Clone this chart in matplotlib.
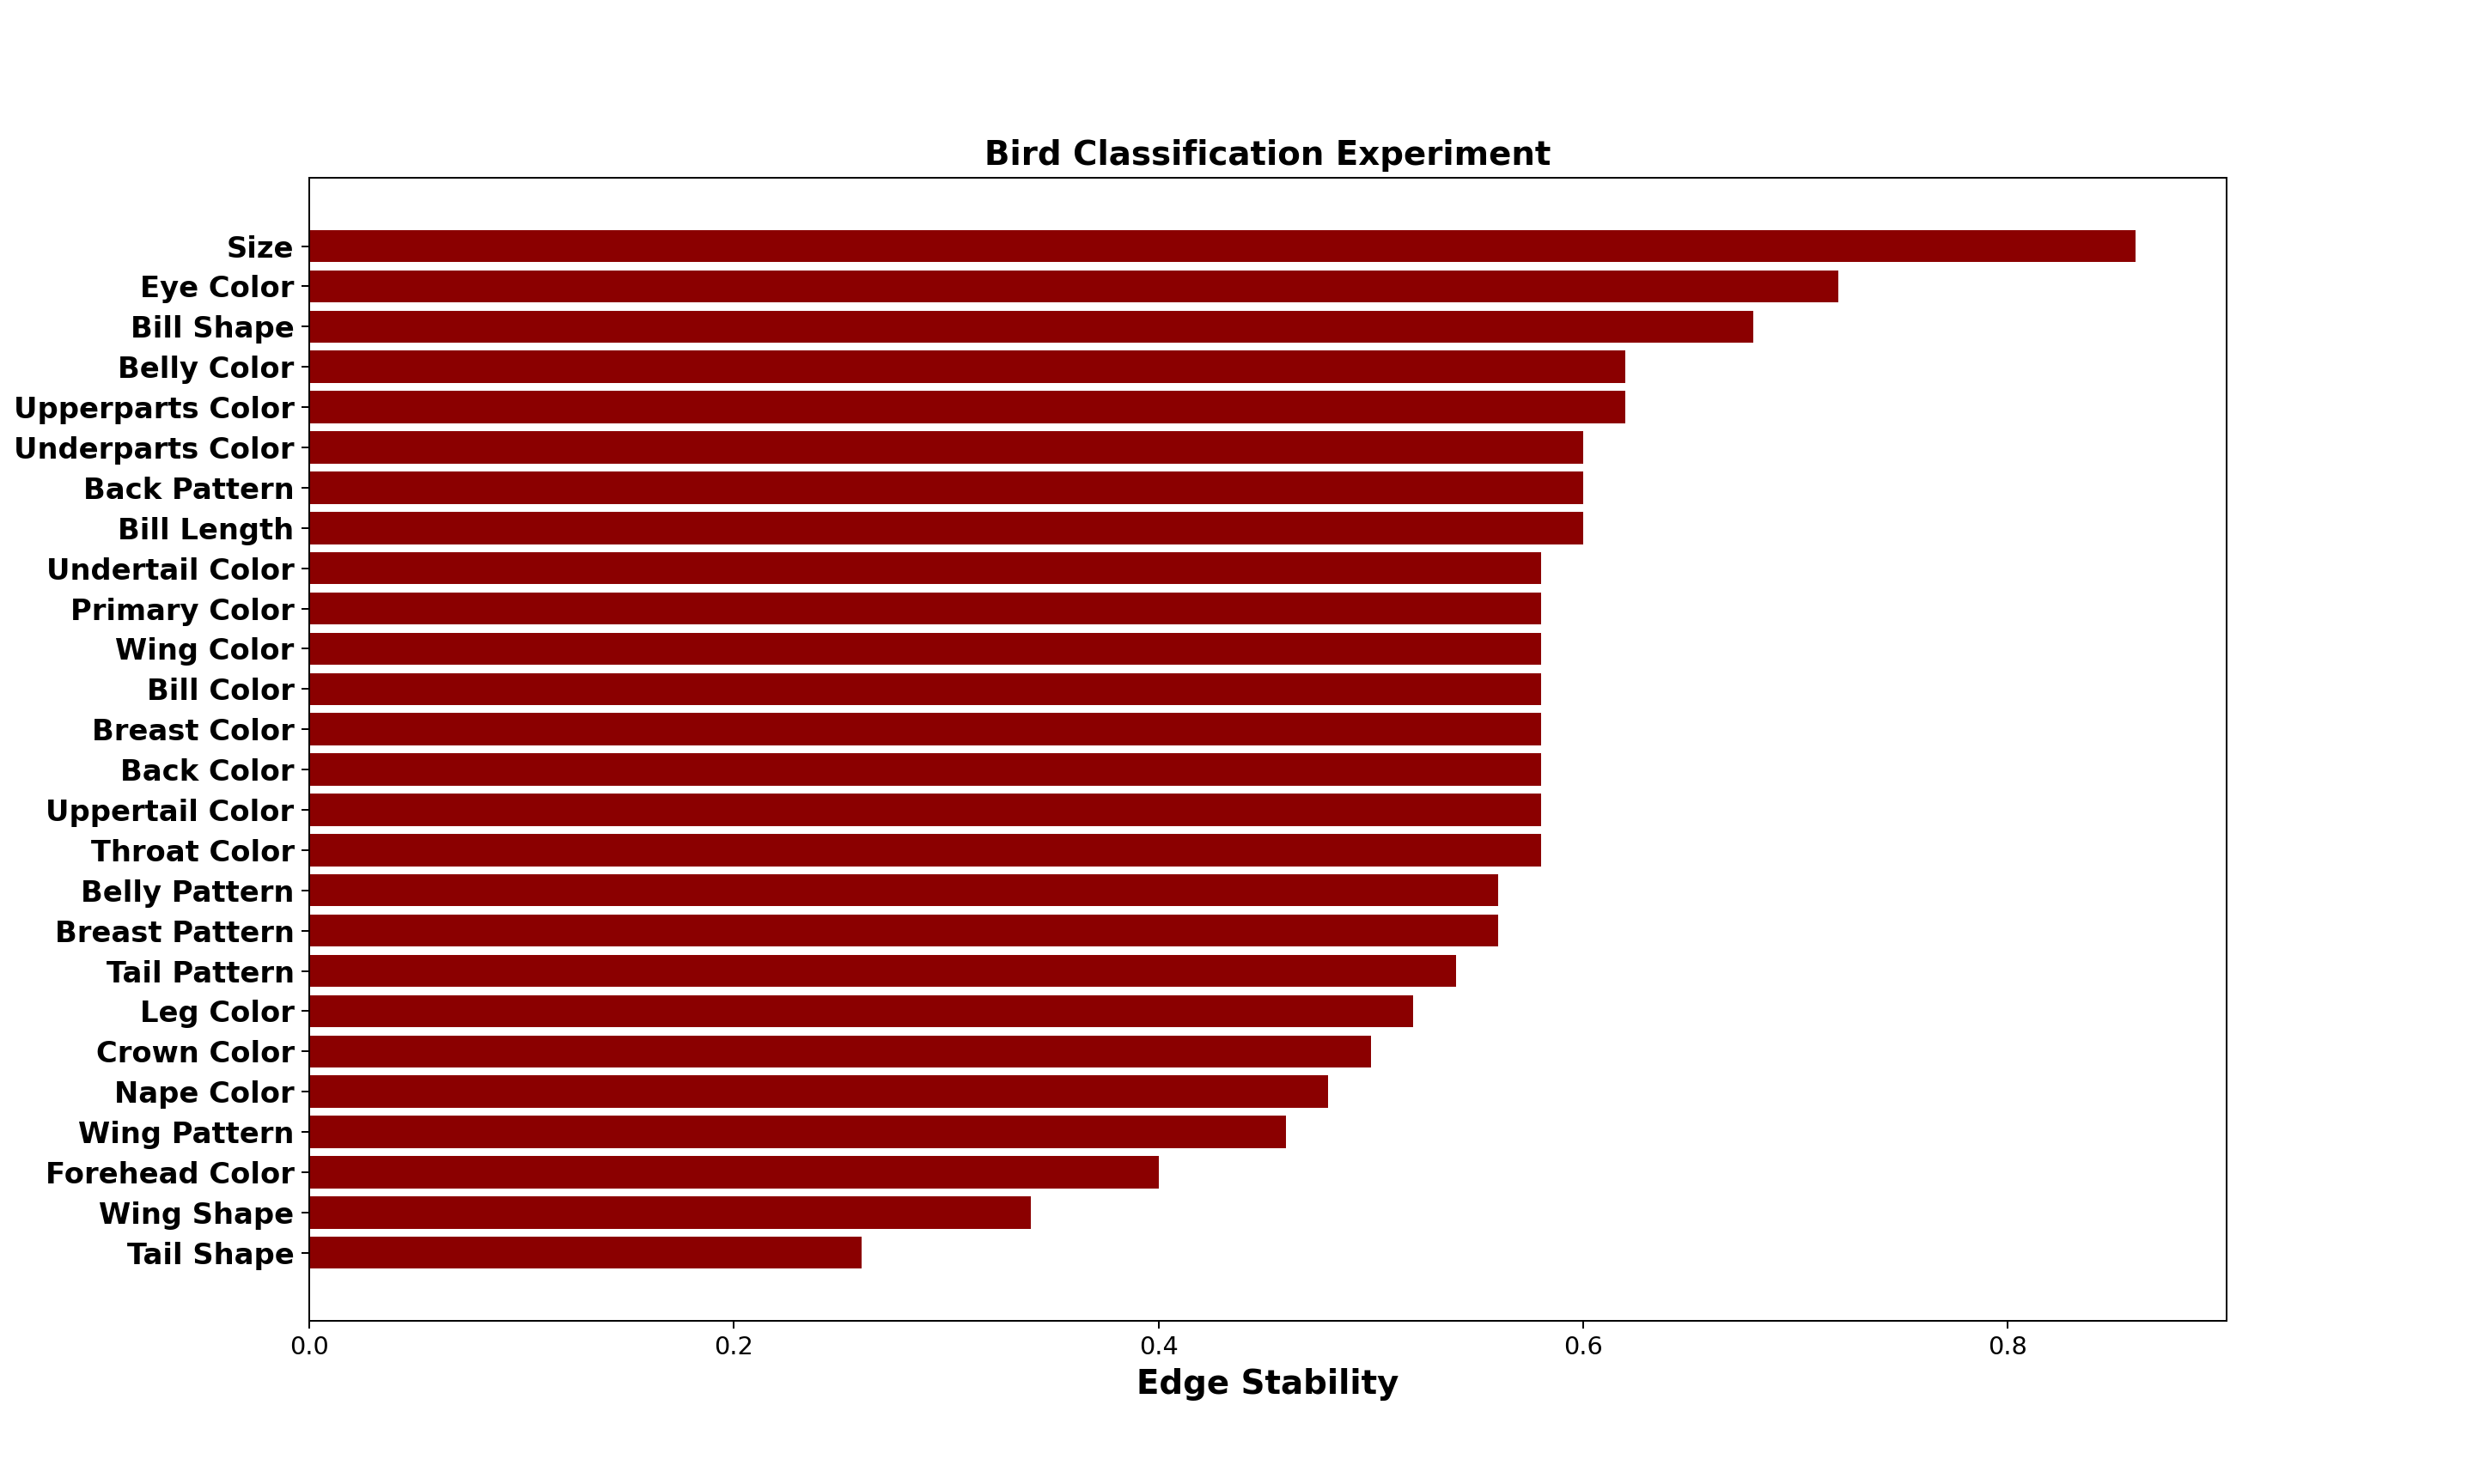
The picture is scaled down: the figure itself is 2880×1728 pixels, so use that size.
import numpy as np
import matplotlib.pyplot as plt

# Features and their edge stability (top to bottom as shown)
features = ['Size', 'Eye Color', 'Bill Shape', 'Belly Color', 'Upperparts Color',
            'Underparts Color', 'Back Pattern', 'Bill Length', 'Undertail Color',
            'Primary Color', 'Wing Color', 'Bill Color', 'Breast Color', 'Back Color',
            'Uppertail Color', 'Throat Color', 'Belly Pattern', 'Breast Pattern',
            'Tail Pattern', 'Leg Color', 'Crown Color', 'Nape Color', 'Wing Pattern',
            'Forehead Color', 'Wing Shape', 'Tail Shape']
stability = [0.86, 0.72, 0.68, 0.62, 0.62,
             0.60, 0.60, 0.60, 0.58,
             0.58, 0.58, 0.58, 0.58, 0.58,
             0.58, 0.58, 0.56, 0.56,
             0.54, 0.52, 0.50, 0.48, 0.46,
             0.40, 0.34, 0.26]

fig, ax = plt.subplots(figsize=(16, 9.6), dpi=180)
ax.barh(features, stability, color='darkred')
ax.invert_yaxis()
ax.set_xlim(0, max(stability) * 1.05)
ax.set_xlabel('Edge Stability', fontsize=15.5, fontweight='bold')
ax.set_title('Bird Classification Experiment', fontsize=15.5, fontweight='bold')
plt.yticks(fontsize=13.5, fontweight='bold')
plt.xticks(fontsize=11.5)

plt.savefig('out.png', dpi=180)
